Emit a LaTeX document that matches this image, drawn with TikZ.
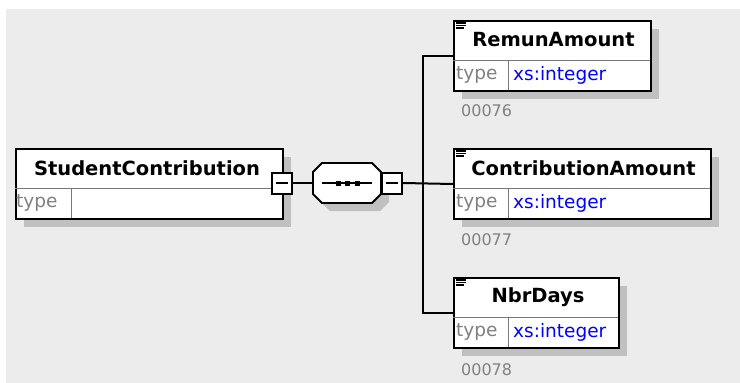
\documentclass[tikz,border=0pt]{standalone}
\usepackage{fontspec}
\setmainfont{DejaVu Sans}
\usetikzlibrary{shadows}
\definecolor{bgc}{RGB}{236,236,236}
\definecolor{shc}{RGB}{192,192,192}
\definecolor{typec}{RGB}{128,128,128}
\definecolor{divc}{RGB}{120,120,120}
\definecolor{xsc}{RGB}{0,0,255}
\begin{document}
\begin{tikzpicture}[x=1pt,y=-1pt,
  elbox/.style={draw=black,line width=2pt,fill=white,inner sep=0pt,anchor=north west,
    drop shadow={shadow xshift=8pt,shadow yshift=-8pt,fill=shc,opacity=1}},
  namet/.style={inner sep=0pt,font=\fontsize{19.5}{22}\selectfont\bfseries},
  typet/.style={inner sep=0pt,anchor=west,text=typec,font=\fontsize{18.5}{20}\selectfont},
  xst/.style={inner sep=0pt,anchor=west,text=xsc,font=\fontsize{18.5}{20}\selectfont},
  numt/.style={inner sep=0pt,anchor=west,text=typec,font=\fontsize{16}{18}\selectfont},
  divl/.style={draw=divc,line width=1pt},
  conn/.style={draw=black,line width=2pt},
  minusbox/.style={draw=black,line width=2pt,fill=white,minimum width=20pt,minimum height=21pt,inner sep=0pt},
  minusl/.style={line width=1.6pt},
  eqline/.style={line width=1.2pt},
]
\useasboundingbox (0,0) rectangle (740,383);
\fill[bgc] (6,9) rectangle (740,383);

% StudentContribution
\node[elbox,minimum width=267pt,minimum height=70pt] (sc) at (15,148) {};
\draw[divl] (15,188) -- (282,188);
\draw[divl] (71,188) -- (71,218);
\node[namet] (scN) at (147,168) {StudentContribution};
\node[typet] (scT) at (16,203) {type};
\node[minusbox] (scm) at (282,183) {};
\draw[minusl] ([xshift=-6pt]scm.center) -- ([xshift=6pt]scm.center);

% sequence (octagon)
\node[inner sep=0pt,minimum width=68pt,minimum height=41pt] (seq) at (347,183) {};
\fill[shc,shift={(8,8)}] (322,163) -- (372,163) -- (381,172) -- (381,194) -- (372,203) -- (322,203) -- (313,194) -- (313,172) -- cycle;
\filldraw[fill=white,draw=black,line width=1.8pt] (322,163) -- (372,163) -- (381,172) -- (381,194) -- (372,203) -- (322,203) -- (313,194) -- (313,172) -- cycle;
\draw[line width=1.4pt] (322,183) -- (372,183);
\fill (338,183) +(-2.5,-2.5) rectangle +(2.5,2.5);
\fill (347.5,183) +(-2.5,-2.5) rectangle +(2.5,2.5);
\fill (357,183) +(-2.5,-2.5) rectangle +(2.5,2.5);
\node[minusbox] (seqm) at (392,183) {};
\draw[minusl] ([xshift=-6pt]seqm.center) -- ([xshift=6pt]seqm.center);

\draw[conn] (scm.east) -- (seq.west);

% children
\node[elbox,minimum width=197pt,minimum height=70pt] (ra) at (453,20) {};
\draw[divl] (453,60) -- (650,60);
\draw[divl] (508,60) -- (508,90);
\node[namet] (raN) at (553.5,40) {RemunAmount};
\node[typet] (raT) at (456,75) {type};
\node[xst] (raX) at (513,75) {xs:integer};
\node[numt] (raNum) at (461,111) {00076};
\draw[eqline] (456,23) -- (466,23) (456,25.5) -- (466,25.5) (456,28) -- (464,28);

\node[elbox,minimum width=257pt,minimum height=70pt] (ca) at (453,148) {};
\draw[divl] (453,188) -- (710,188);
\draw[divl] (508,188) -- (508,218);
\node[namet] (caN) at (583.5,168) {ContributionAmount};
\node[typet] (caT) at (456,203) {type};
\node[xst] (caX) at (513,203) {xs:integer};
\node[numt] (caNum) at (461,240) {00077};
\draw[eqline] (456,151) -- (466,151) (456,153.5) -- (466,153.5) (456,156) -- (464,156);

\node[elbox,minimum width=165pt,minimum height=70pt] (nd) at (453,277) {};
\draw[divl] (453,317) -- (618,317);
\draw[divl] (508,317) -- (508,347);
\node[namet] (ndN) at (538,297) {NbrDays};
\node[typet] (ndT) at (456,332) {type};
\node[xst] (ndX) at (513,332) {xs:integer};
\node[numt] (ndNum) at (461,370) {00078};
\draw[eqline] (456,280) -- (466,280) (456,282.5) -- (466,282.5) (456,285) -- (464,285);

% connectors
\coordinate (j) at (423,183);
\draw[conn] (seqm.east) -- (ca.west);
\draw[conn] (ra.west) -| (j) |- (nd.west);
\end{tikzpicture}
\end{document}
